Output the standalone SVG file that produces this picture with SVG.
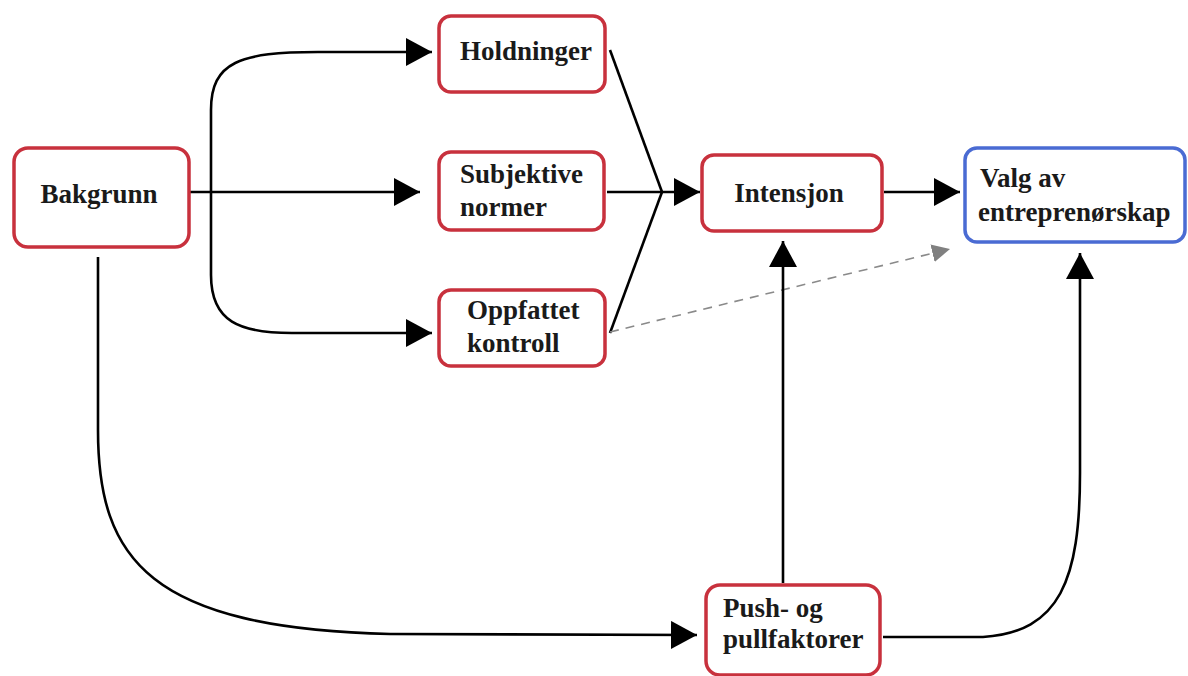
<svg xmlns="http://www.w3.org/2000/svg" width="1188" height="676" viewBox="0 0 1188 676">
<style>
.red{fill:#fff;stroke:#c8313d;stroke-width:3.5}
.blue{fill:#fff;stroke:#4a6bd3;stroke-width:3.5}
.t{font-family:"Liberation Serif","Times New Roman",serif;font-weight:bold;font-size:27px;fill:#1a1a1a}
.c{fill:none;stroke:#000;stroke-width:2.6}
.d{fill:none;stroke:#8a8a8a;stroke-width:1.6;stroke-dasharray:9,7}
</style>
<defs>
<marker id="arr" markerUnits="userSpaceOnUse" markerWidth="28" markerHeight="30" refX="26" refY="14" orient="auto">
<path d="M0,0 L26,14 L0,28 z" fill="#000"/>
</marker>
<marker id="garr" markerUnits="userSpaceOnUse" markerWidth="20" markerHeight="20" refX="18" refY="9" orient="auto">
<path d="M0,0 L18,9 L0,18 z" fill="#808080"/>
</marker>
</defs>
<rect width="1188" height="676" fill="#fff"/>
<g id="connectors">
<path class="c" d="M190,192 L420,192" marker-end="url(#arr)"/>
<path class="c" d="M211,192 L211,110 C211,62 240,52 318,52 L432,52" marker-end="url(#arr)"/>
<path class="c" d="M211,192 L211,275 C211,322 240,333 292,333 L432,333" marker-end="url(#arr)"/>
<path class="c" d="M98,257 L98,430 C98,560 150,628 390,634 L697,635" marker-end="url(#arr)"/>
<path class="c" d="M610,50 L662,192"/>
<path class="c" d="M610,333 L662,192"/>
<path class="c" d="M607,192 L700,192" marker-end="url(#arr)"/>
<path class="c" d="M884,192 L960,192" marker-end="url(#arr)"/>
<path class="d" d="M610,332 L950,249" marker-end="url(#garr)"/>
<path class="c" d="M783,583 L783,241" marker-end="url(#arr)"/>
<path class="c" d="M883,637 L983,637 C1060,632 1080,580 1080,473 L1080,253" marker-end="url(#arr)"/>
</g>
<g id="bakgrunn">
<rect class="red" x="14" y="148" width="175" height="99" rx="14"/>
<text class="t" x="99" y="203" text-anchor="middle">Bakgrunn</text>
</g>
<g id="holdninger">
<rect class="red" x="439" y="16" width="166" height="76" rx="12"/>
<text class="t" x="460" y="60">Holdninger</text>
</g>
<g id="subjektive">
<rect class="red" x="439" y="152" width="165" height="78" rx="12"/>
<text class="t" x="460" y="183">Subjektive</text>
<text class="t" x="460" y="216">normer</text>
</g>
<g id="oppfattet">
<rect class="red" x="439" y="290" width="166" height="76" rx="12"/>
<text class="t" x="467" y="319">Oppfattet</text>
<text class="t" x="467" y="352">kontroll</text>
</g>
<g id="intensjon">
<rect class="red" x="702" y="155" width="180" height="76" rx="12"/>
<text class="t" x="789" y="202" text-anchor="middle">Intensjon</text>
</g>
<g id="valg">
<rect class="blue" x="965" y="148" width="220" height="94" rx="12"/>
<text class="t" x="980" y="187">Valg av</text>
<text class="t" x="978" y="221">entreprenørskap</text>
</g>
<g id="push">
<rect class="red" x="706" y="585" width="174" height="90" rx="14"/>
<text class="t" x="723" y="617">Push- og</text>
<text class="t" x="723" y="648">pullfaktorer</text>
</g>
</svg>
